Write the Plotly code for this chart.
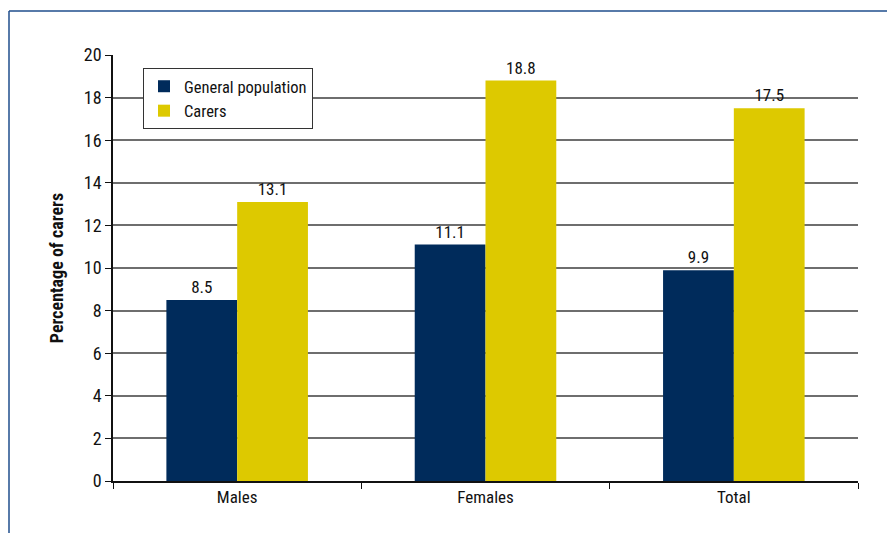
import plotly.graph_objects as go

categories = ["Males", "Females", "Total"]
general_population = [8.5, 11.1, 9.9]
carers = [13.1, 18.8, 17.5]
y_ticks = [0, 2, 4, 6, 8, 10, 12, 14, 16, 18, 20]

NAVY = "#002B5B"
YELLOW = "#DDC900"
FONT = "Roboto Condensed, Liberation Sans Narrow, Roboto, sans-serif"

fig = go.Figure()
fig.add_trace(go.Bar(
    name="General population", x=categories, y=general_population,
    marker=dict(color=NAVY, line=dict(width=0)),
    text=[f"{v:.1f}" for v in general_population], textposition="outside",
    textfont=dict(size=17, color="#111"), cliponaxis=False,
))
fig.add_trace(go.Bar(
    name="Carers", x=categories, y=carers,
    marker=dict(color=YELLOW, line=dict(width=0)),
    text=[f"{v:.1f}" for v in carers], textposition="outside",
    textfont=dict(size=17, color="#111"), cliponaxis=False,
))

W, H = 887, 533
L, R, T, B = 113, 29, 55, 52
pw, ph = W - L - R, H - T - B

def px_x(p):
    return (p - L) / pw

def px_y(p):
    return (H - B - p) / ph

fig.update_layout(
    width=W, height=H,
    margin=dict(l=L, r=R, t=T, b=B),
    paper_bgcolor="white", plot_bgcolor="white",
    barmode="group", bargap=0.43, bargroupgap=0,
    font=dict(family=FONT, size=17, color="#111"),
    showlegend=True,
    legend=dict(
        x=px_x(143), y=px_y(68), xanchor="left", yanchor="top",
        bgcolor="white", bordercolor="#333", borderwidth=1,
        font=dict(size=16.5), traceorder="normal",
        itemwidth=30, tracegroupgap=0,
    ),
    xaxis=dict(
        showline=True, linecolor="#111", linewidth=1.5,
        ticks="outside", tickson="boundaries", ticklen=6, tickcolor="#111",
        showgrid=False, tickfont=dict(size=17),
    ),
    yaxis=dict(
        range=[0, 20], tickvals=y_ticks,
        showline=True, linecolor="#111", linewidth=1.5,
        ticks="outside", ticklen=6, tickcolor="#111",
        showgrid=True, gridcolor="#6e6e6e", gridwidth=1.5,
        zeroline=False, tickfont=dict(size=18),
        title=dict(text="<b>Percentage of carers</b>", font=dict(size=18), standoff=16),
    ),
    shapes=[
        dict(type="line", xref="paper", yref="paper",
             x0=px_x(9), x1=px_x(W + 5), y0=px_y(11), y1=px_y(11),
             line=dict(color="#1f4e8c", width=1.5)),
        dict(type="line", xref="paper", yref="paper",
             x0=px_x(9), x1=px_x(9), y0=px_y(11), y1=px_y(H + 5),
             line=dict(color="#1f4e8c", width=1.5)),
    ],
)

fig.write_html("out.html")
